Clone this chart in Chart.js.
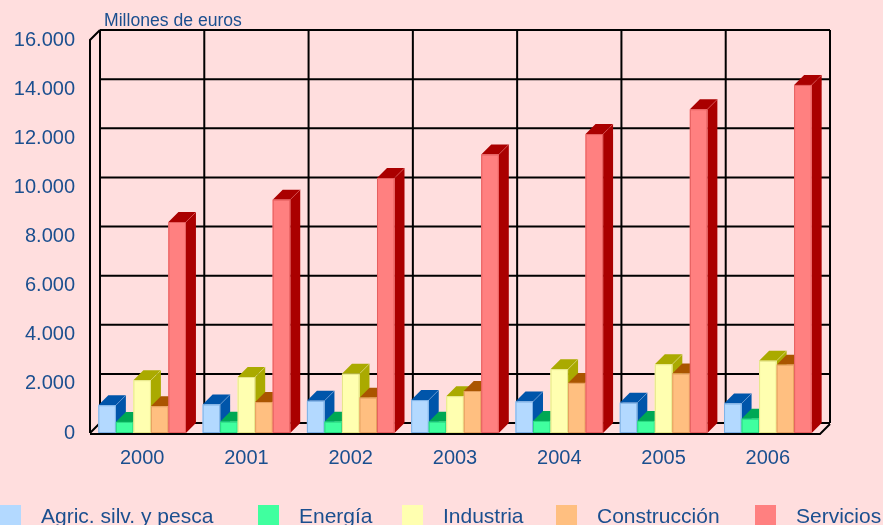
<!DOCTYPE html>
<html>
<head>
    <title>Millones de euros</title>
    <script src="https://cdn.jsdelivr.net/npm/chart.js"></script>
    <style>
        html, body { margin: 0; padding: 0; background: #ffdede; }
        canvas { display: block; }
    </style>
</head>
<body>
    <canvas id="myChart" width="883" height="525"></canvas>

    <script>
        // data (millones de euros)
        var categories = ['2000', '2001', '2002', '2003', '2004', '2005', '2006'];
        var agric = [1130, 1160, 1310, 1340, 1280, 1230, 1200];
        var energia = [450, 460, 460, 460, 490, 490, 580];
        var industria = [2150, 2280, 2410, 1500, 2600, 2800, 2940];
        var construccion = [1090, 1260, 1440, 1710, 2040, 2420, 2780];
        var servicios = [8590, 9500, 10380, 11340, 12170, 13180, 14170];
        var seriesNames = ['Agric. silv. y pesca', 'Energía', 'Industria', 'Construcción', 'Servicios'];
        var yTicks = [0, 2000, 4000, 6000, 8000, 10000, 12000, 14000, 16000];

        // front / top+side colours
        var frontColors = ['#b3d9ff', '#40ff9f', '#ffffb0', '#ffbf80', '#ff8080'];
        var sideColors = ['#0055aa', '#00a854', '#aaaa00', '#aa5500', '#aa0000'];
        var edgeColors = ['#7fb2e6', '#2bd982', '#e6e68a', '#e6a060', '#e66060'];
        var legendX = [0, 258, 402, 556, 755];

        var textColor = '#1b4f8f';
        var depth = 10;

        function fmt(v) {
            return String(v).replace(/\B(?=(\d{3})+(?!\d))/g, '.');
        }

        var threeD = {
            id: 'threeD',
            beforeDatasetsDraw: function (chart) {
                var c = chart.ctx, a = chart.chartArea;
                var ys = chart.scales.y;
                c.save();
                c.strokeStyle = '#000';
                c.lineWidth = 2;
                c.beginPath();
                // back wall horizontal lines
                yTicks.forEach(function (v) {
                    var y = ys.getPixelForValue(v) - depth;
                    c.moveTo(a.left + depth, y);
                    c.lineTo(a.right + depth, y);
                });
                // back wall vertical lines at category borders
                var step = (a.right - a.left) / categories.length;
                for (var i = 0; i <= categories.length; i++) {
                    var x = a.left + i * step + depth;
                    c.moveTo(x, a.top - depth);
                    c.lineTo(x, a.bottom - depth);
                }
                // left wall + floor
                c.moveTo(a.left, a.bottom);
                c.lineTo(a.left, a.top);
                c.lineTo(a.left + depth, a.top - depth);
                c.moveTo(a.left, a.bottom);
                c.lineTo(a.left + depth, a.bottom - depth);
                c.moveTo(a.left, a.bottom + 1);
                c.lineTo(a.right, a.bottom + 1);
                c.lineTo(a.right + depth, a.bottom + 1 - depth);
                c.stroke();
                c.restore();
            },
            afterDatasetsDraw: function (chart) {
                var c = chart.ctx;
                c.save();
                for (var j = 0; j < categories.length; j++) {
                    for (var i = 0; i < chart.data.datasets.length; i++) {
                        var bar = chart.getDatasetMeta(i).data[j];
                        var x0 = bar.x - bar.width / 2, x1 = bar.x + bar.width / 2;
                        var yt = bar.y, yb = bar.base;
                        c.fillStyle = sideColors[i];
                        // side
                        c.beginPath();
                        c.moveTo(x1, yt);
                        c.lineTo(x1 + depth, yt - depth);
                        c.lineTo(x1 + depth, yb - depth);
                        c.lineTo(x1, yb);
                        c.closePath();
                        c.fill();
                        // top
                        c.beginPath();
                        c.moveTo(x0, yt);
                        c.lineTo(x1, yt);
                        c.lineTo(x1 + depth, yt - depth);
                        c.lineTo(x0 + depth, yt - depth);
                        c.closePath();
                        c.fill();
                        // light edge
                        c.strokeStyle = edgeColors[i];
                        c.globalAlpha = 0.5;
                        c.lineWidth = 1;
                        c.beginPath();
                        c.moveTo(x1, yt);
                        c.lineTo(x1 + depth, yt - depth);
                        c.stroke();
                        c.globalAlpha = 1;
                        // front
                        c.fillStyle = frontColors[i];
                        c.fillRect(x0, yt, x1 - x0, yb - yt);
                        c.strokeStyle = edgeColors[i];
                        c.strokeRect(x0 + 0.5, yt + 0.5, x1 - x0 - 1, yb - yt - 1);
                    }
                }
                c.restore();
            },
            afterDraw: function (chart) {
                var c = chart.ctx, a = chart.chartArea;
                c.save();
                c.fillStyle = textColor;
                c.textBaseline = 'alphabetic';
                c.textAlign = 'left';
                c.font = '17.6px "Liberation Sans", Arial, sans-serif';
                c.fillText('Millones de euros', a.left + depth + 4, 26);
                // legend
                c.font = '21px "Liberation Sans", Arial, sans-serif';
                chart.data.datasets.forEach(function (ds, i) {
                    c.fillStyle = frontColors[i];
                    c.fillRect(legendX[i], 505, 21, 22);
                    c.fillStyle = textColor;
                    c.fillText(ds.label, legendX[i] + 41, 523);
                });
                c.restore();
            }
        };

        var datasets = [agric, energia, industria, construccion, servicios].map(function (vals, i) {
            return {
                label: seriesNames[i],
                data: vals,
                backgroundColor: frontColors[i],
                borderWidth: 0,
                categoryPercentage: 0.84,
                barPercentage: 1.0
            };
        });

        var ctx = document.getElementById('myChart').getContext('2d');
        var myChart = new Chart(ctx, {
            type: 'bar',
            data: { labels: categories, datasets: datasets },
            plugins: [threeD],
            options: {
                responsive: false,
                animation: false,
                layout: { padding: { top: 40, right: 63, bottom: 52, left: 0 } },
                plugins: {
                    legend: { display: false },
                    tooltip: { enabled: false }
                },
                scales: {
                    x: {
                        grid: { display: false, drawTicks: false },
                        border: { display: false },
                        ticks: {
                            color: textColor,
                            padding: 13,
                            font: { family: '"Liberation Sans", Arial, sans-serif', size: 20 }
                        },
                        afterFit: function (scale) { scale.height = 40; }
                    },
                    y: {
                        min: 0,
                        max: 16000,
                        grid: { display: false, drawTicks: false },
                        border: { display: false },
                        afterBuildTicks: function (scale) {
                            scale.ticks = yTicks.map(function (v) { return { value: v }; });
                        },
                        ticks: {
                            color: textColor,
                            padding: 15,
                            font: { family: '"Liberation Sans", Arial, sans-serif', size: 20 },
                            callback: function (v) { return fmt(v); }
                        },
                        afterFit: function (scale) { scale.width = 90; }
                    }
                }
            }
        });
    </script>
</body>
</html>
